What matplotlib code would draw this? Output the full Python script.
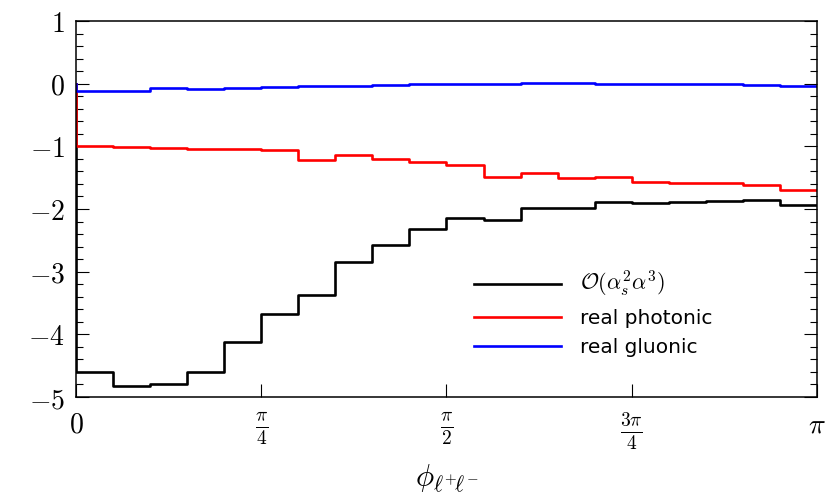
import numpy as np
import matplotlib
matplotlib.use('Agg')
import matplotlib.pyplot as plt
from matplotlib.ticker import FixedLocator, MultipleLocator


# 20 bins of the azimuthal angle between the leptons, 0..pi
n_bins = 20
edges = np.linspace(0, np.pi, n_bins + 1)

total_nlo = [-4.60, -4.82, -4.80, -4.60, -4.13, -3.67, -3.38, -2.85, -2.58, -2.32,
             -2.15, -2.17, -1.99, -1.99, -1.89, -1.91, -1.89, -1.87, -1.85, -1.93]
real_photonic = [-1.00, -1.01, -1.02, -1.04, -1.04, -1.06, -1.21, -1.14, -1.20, -1.25,
                 -1.30, -1.49, -1.43, -1.51, -1.49, -1.57, -1.59, -1.59, -1.62, -1.69]
real_gluonic = [-0.12, -0.11, -0.075, -0.085, -0.065, -0.06, -0.04, -0.03, -0.02, -0.01,
                -0.01, -0.005, 0.005, 0.01, -0.005, 0.0, 0.0, -0.01, -0.02, -0.03]

x_tick_pos = [0, np.pi / 4, np.pi / 2, 3 * np.pi / 4, np.pi]
x_tick_labels = [r'$0$', r'$\frac{\pi}{4}$', r'$\frac{\pi}{2}$', r'$\frac{3\pi}{4}$', r'$\pi$']
y_tick_pos = [1, 0, -1, -2, -3, -4, -5]

plt.rcParams['mathtext.fontset'] = 'cm'
plt.rcParams['font.family'] = 'DejaVu Sans'


def draw_hist(ax, values, color, label):
    # step outline that starts from zero at the left edge
    xs = np.r_[0, edges]
    ys = np.r_[0, values, values[-1]]
    ax.step(xs, ys, where='post', color=color, lw=1.9, label=label)


fig = plt.figure(figsize=(8.28, 4.97), dpi=100)
ax = fig.add_axes([0.0918, 0.2012, 0.8949, 0.7565])

draw_hist(ax, total_nlo, 'black', r'$\mathcal{O}(\alpha_s^2\alpha^3)$')
draw_hist(ax, real_photonic, '#ff0000', 'real photonic')
draw_hist(ax, real_gluonic, '#0000ff', 'real gluonic')

ax.set_xlim(0, np.pi)
ax.set_ylim(-5, 1)

ax.xaxis.set_major_locator(FixedLocator(x_tick_pos))
ax.set_xticklabels(x_tick_labels)
ax.yaxis.set_major_locator(FixedLocator(y_tick_pos))
ax.set_yticklabels([r'$%d$' % v for v in y_tick_pos])
ax.yaxis.set_minor_locator(MultipleLocator(0.2))

ax.tick_params(axis='both', which='both', direction='in', labelsize=20, width=0.8)
ax.tick_params(axis='x', which='major', length=9.5, pad=10, top=False)
ax.tick_params(axis='y', which='major', length=9.5, pad=8, left=True, right=True)
ax.tick_params(axis='y', which='minor', length=5, left=True, right=True)

for spine in ax.spines.values():
    spine.set_linewidth(1.1)

ax.set_xlabel(r'$\phi_{\ell^{+}\!\ell^{-}}$', fontsize=22, labelpad=8)

leg = ax.legend(loc='upper left', bbox_to_anchor=(0.537, 0.34), frameon=False,
                fontsize=14.5, handlelength=4.3, handletextpad=0.95, labelspacing=0.5,
                borderpad=0, borderaxespad=0)
leg.get_texts()[0].set_fontsize(16)

fig.savefig('out.png', dpi=100)
